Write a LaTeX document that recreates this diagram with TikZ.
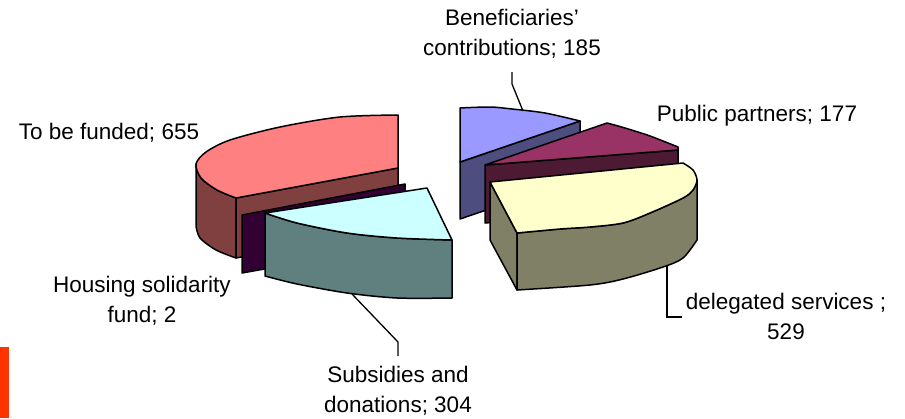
\documentclass[tikz,border=0pt]{standalone}
\usepackage{fontspec}
\setmainfont{Liberation Sans}
\definecolor{pinktop}{HTML}{FF8080}
\definecolor{pinkside}{HTML}{804040}
\definecolor{hsfface}{HTML}{330033}
\definecolor{cyantop}{HTML}{CCFFFF}
\definecolor{cyanside}{HTML}{608080}
\definecolor{bluetop}{HTML}{9999FF}
\definecolor{blueside}{HTML}{4D4D80}
\definecolor{marotop}{HTML}{993366}
\definecolor{maroside}{HTML}{4D1A33}
\definecolor{yeltop}{HTML}{FFFFCC}
\definecolor{yelside}{HTML}{808066}
\definecolor{redbar}{HTML}{FF3300}
\begin{document}
\begin{tikzpicture}[x=1pt,y=-1pt,
  face/.style={draw=black, line width=1.5pt, line join=round},
  lbl/.style={font=\fontsize{22.5}{30}\selectfont, align=center, inner sep=0pt},
  leader/.style={draw=black, line width=1.3pt}]
\useasboundingbox (0,0) rectangle (905,418);
% ---------- left group ----------
% To be funded
\draw[face, fill=pinkside] plot[smooth] coordinates {(196,164) (201,178) (217,190) (236,198)}
  -- (236,258) -- plot[smooth] coordinates {(236,258) (216,250) (200,238) (196,226)} -- cycle;
\draw[face, fill=pinkside] (236,198) -- (398,168) -- (398,228) -- (236,258) -- cycle;
\draw[face, fill=pinktop] plot[smooth] coordinates {(398,115) (340,117) (280,127) (230,140) (206,152) (196,164) (201,178) (217,190) (236,198)}
  -- (398,168) -- cycle;
% Housing solidarity fund
\draw[face, fill=hsfface] (242,215) -- (405,184) -- (405,244) -- (242,273) -- cycle;
% Subsidies and donations
\draw[face, fill=cyanside] plot[smooth] coordinates {(265,213) (297,223) (347,233) (397,238) (452,240)}
  -- (452,298) -- plot[smooth] coordinates {(452,298) (397,298) (347,293) (297,284) (265,276)} -- cycle;
\draw[face, fill=cyantop] (427,188) -- (452,240) -- plot[smooth] coordinates {(452,240) (397,238) (347,233) (297,223) (265,213)} -- cycle;
% ---------- right group ----------
% Beneficiaries' contributions
\draw[face, fill=blueside] (460,162) -- (580,121) -- (580,178) -- (460,219) -- cycle;
\draw[face, fill=bluetop] plot[smooth] coordinates {(460,108) (490,107) (512,109) (545,113) (580,121)} -- (460,162) -- cycle;
% Public partners
\draw[face, fill=maroside] (485,165) -- (678,150) -- (678,208) -- (485,223) -- cycle;
\draw[face, fill=marotop] (485,165) -- (607,123) -- plot[smooth] coordinates {(607,123) (625,128) (650,136) (678,147)} -- (678,150) -- cycle;
% delegated services
\draw[face, fill=yelside] (490,182) -- (517,233) -- (517,290) -- (490,240) -- cycle;
\draw[face, fill=yelside] plot[smooth] coordinates {(517,233) (560,229) (590,227) (623,223) (650,213) (683,198) (693,190) (697,180)}
  -- (697,240) -- plot[smooth] coordinates {(697,240) (683,258) (663,267) (623,279) (590,285) (517,290)} -- cycle;
\draw[face, fill=yeltop] (490,182) -- (683,163) -- plot[smooth] coordinates {(683,163) (693,170) (697,180) (693,190) (683,198) (650,213) (623,223) (590,227) (560,229) (517,233)} -- cycle;
% red bar
\fill[redbar] (0,347) rectangle (9,418);
% ---------- labels ----------
\node[lbl] (tbf) at (109,133) {To be funded; 655};
\node[lbl] (hsf) at (142,301) {Housing solidarity\\fund; 2};
\node[lbl] (sub) at (398,391) {Subsidies and\\donations; 304};
\node[lbl] (ben) at (512,34) {Beneficiaries’\\contributions; 185};
\node[lbl] (pub) at (757,116) {Public partners; 177};
\node[lbl] (del) at (786,316) {delegated services ;\\529};
% ---------- leaders ----------
\coordinate (benp) at (523,111);
\coordinate (benq) at (512,72);
\draw[leader] (benp) -- (512,84) -- (benq);
\coordinate (subp) at (352,294);
\coordinate (subq) at (398,356);
\draw[leader] (subp) -- (398,342) -- (subq);
\coordinate (delp) at (667,266);
\coordinate (delq) at (682,317);
\draw[leader] (delp) -- (667,317) -- (delq);
\end{tikzpicture}
\end{document}
